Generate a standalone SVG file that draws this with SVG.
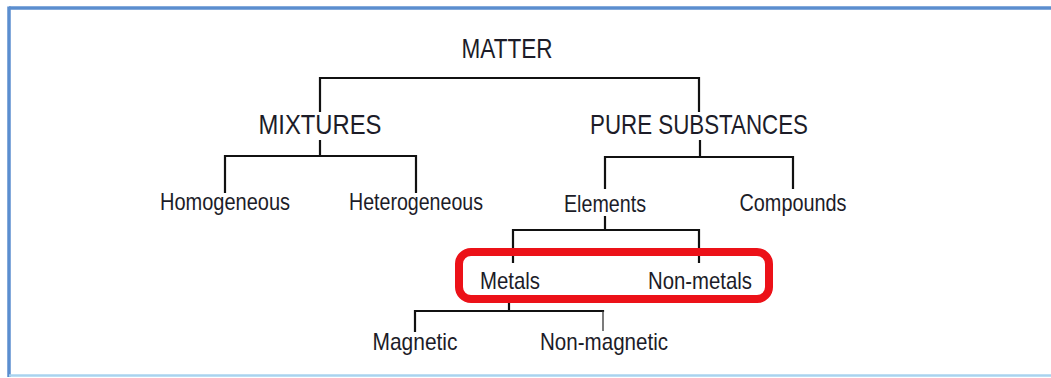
<svg xmlns="http://www.w3.org/2000/svg" width="1051" height="378" viewBox="0 0 1051 378">
<style>
.t{font-family:"Liberation Sans",Arial,sans-serif;fill:#1c1c28;text-anchor:middle}
.h{font-size:28px}
.n{font-size:24px}
.c{fill:none;stroke:#111;stroke-width:2.2;stroke-linecap:square}
.thin{fill:none;stroke:#333;stroke-width:1.3}
</style>
<rect width="1051" height="378" fill="#fff"/>
<g id="frame">
<line x1="9" y1="8" x2="1051" y2="8" stroke="#5b8ecf" stroke-width="3.5"/>
<line x1="9" y1="6.5" x2="9" y2="377" stroke="#5b8ecf" stroke-width="3.5"/>
<line x1="9" y1="375.5" x2="1051" y2="375.5" stroke="#a9d3ef" stroke-width="2.5"/>
</g>
<g id="connectors">
<path class="c" d="M320 111 V78 H699 V111" stroke-width="2.6"/>
<path class="c" d="M320 141 V156 M225 192 V156 H416 V192"/>
<path class="c" d="M700 141 V157 M605 188 V157 H793 V188"/>
<path class="c" d="M605 217 V230 M513 262 V230 H699 V262" stroke-width="2"/>
<path class="c" d="M509 296 V311 M415 331 V311 H603" stroke-width="2.6"/>
<path class="thin" d="M603 311 V331"/>
</g>
<rect id="highlight" x="459" y="252" width="310" height="47" rx="12" fill="none" stroke="#ec1118" stroke-width="8"/>
<g id="matter"><text class="t h" x="507" y="58" textLength="91" lengthAdjust="spacingAndGlyphs">MATTER</text></g>
<g id="mixtures"><text class="t h" x="320" y="134" textLength="123" lengthAdjust="spacingAndGlyphs">MIXTURES</text></g>
<g id="pure"><text class="t h" x="699" y="134" textLength="218" lengthAdjust="spacingAndGlyphs">PURE SUBSTANCES</text></g>
<g id="homogeneous"><text class="t n" x="225" y="210" textLength="130" lengthAdjust="spacingAndGlyphs">Homogeneous</text></g>
<g id="heterogeneous"><text class="t n" x="416" y="210" textLength="134" lengthAdjust="spacingAndGlyphs">Heterogeneous</text></g>
<g id="elements"><text class="t n" x="605" y="212" textLength="82" lengthAdjust="spacingAndGlyphs">Elements</text></g>
<g id="compounds"><text class="t n" x="793" y="211" textLength="107" lengthAdjust="spacingAndGlyphs">Compounds</text></g>
<g id="metals"><text class="t n" x="510" y="289" textLength="60" lengthAdjust="spacingAndGlyphs">Metals</text></g>
<g id="nonmetals"><text class="t n" x="700" y="289" textLength="104" lengthAdjust="spacingAndGlyphs">Non-metals</text></g>
<g id="magnetic"><text class="t n" x="415" y="350" textLength="85" lengthAdjust="spacingAndGlyphs">Magnetic</text></g>
<g id="nonmagnetic"><text class="t n" x="604" y="350" textLength="128" lengthAdjust="spacingAndGlyphs">Non-magnetic</text></g>
</svg>
